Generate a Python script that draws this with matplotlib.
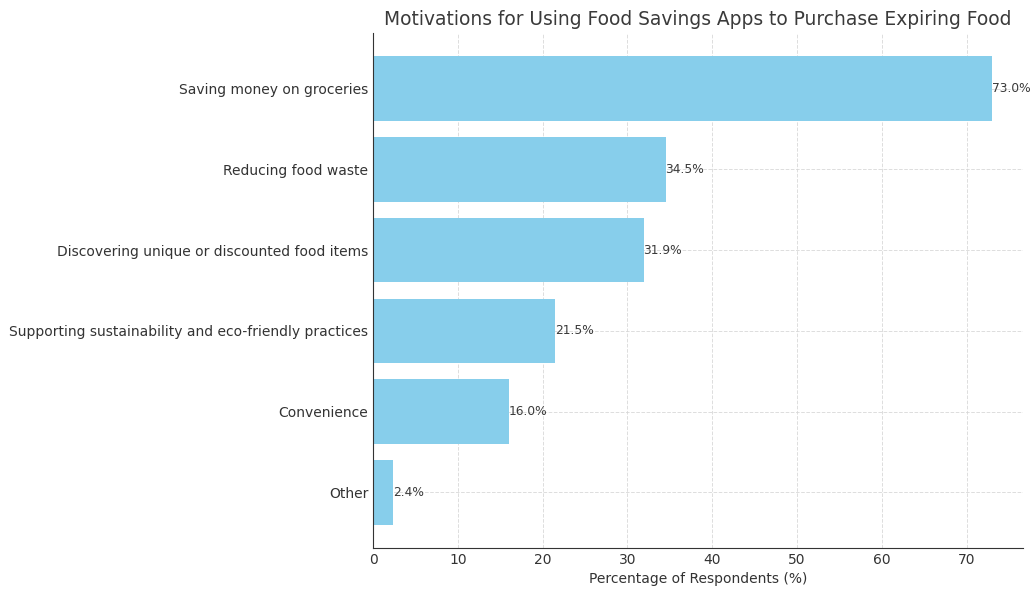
import matplotlib
matplotlib.use("Agg")
import matplotlib.pyplot as plt

categories = ["Saving money on groceries", "Reducing food waste",
              "Discovering unique or discounted food items",
              "Supporting sustainability and eco-friendly practices",
              "Convenience", "Other"]
values = [73.0, 34.5, 31.9, 21.5, 16.0, 2.4]

fig = plt.figure(figsize=(10.34, 5.89), dpi=100)
ax = fig.add_axes([373/1034, 1-548/589, (1023-373)/1034, (548-33)/589])
bars = ax.barh(categories, values, color="skyblue")
ax.invert_yaxis()
for b, v in zip(bars, values):
    ax.text(b.get_width(), b.get_y() + b.get_height()/2, f"{v}%",
            va="center", ha="left", fontsize=8.8, color="#3a3a3a")
ax.set_title("Motivations for Using Food Savings Apps to Purchase Expiring Food",
             fontsize=13.4, color="#3a3a3a")
ax.set_xlabel("Percentage of Respondents (%)", fontsize=10, color="#333333")
ax.grid(True, linestyle="--", color="#d5d5d5", linewidth=0.7, alpha=0.8)
ax.set_axisbelow(True)
for s in ["top", "right"]:
    ax.spines[s].set_visible(False)
for s in ["left", "bottom"]:
    ax.spines[s].set_color("#333333")
ax.tick_params(length=0, labelsize=10, colors="#333333")
fig.savefig("out.png", dpi=100)
